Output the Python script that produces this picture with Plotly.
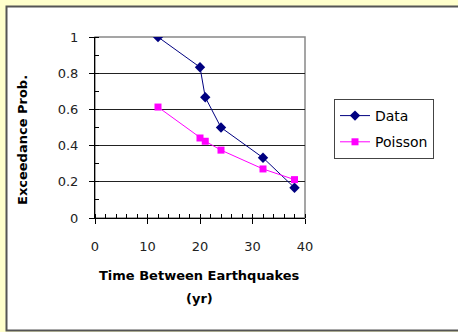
import plotly.graph_objects as go

time_yr = [12, 20, 21, 24, 32, 38]
data_prob = [1.0, 0.833, 0.667, 0.5, 0.333, 0.167]
poisson_prob = [0.613, 0.442, 0.424, 0.375, 0.271, 0.212]
x_ticks = [0, 10, 20, 30, 40]
y_ticks = [0, 0.2, 0.4, 0.6, 0.8, 1]
y_tick_text = ["0", "0.2", "0.4", "0.6", "0.8", "1"]

W, H = 458, 332
L, R, T, B = 95, 305, 37, 218  # plot area pixel bounds


def px(x):
    return (x - L) / (R - L)


def py(y):
    return (B - y) / (B - T)


fig = go.Figure()
fig.add_trace(go.Scatter(
    x=time_yr, y=data_prob, name="Data", mode="lines+markers",
    legendgroup="a",
    line=dict(color="#000080", width=1),
    marker=dict(symbol="diamond", size=8, color="#000080"),
))
fig.add_trace(go.Scatter(
    x=time_yr, y=poisson_prob, name="Poisson", mode="lines+markers",
    legendgroup="b",
    line=dict(color="#FF00FF", width=1),
    marker=dict(symbol="square", size=7, color="#FF00FF"),
))

tickfont = dict(family="DejaVu Sans", size=13, color="#222")
fig.update_xaxes(
    range=[0, 40], tickvals=x_ticks, showgrid=False, zeroline=False,
    showline=True, linecolor="black", linewidth=1,
    ticks="outside", ticklen=5, tickcolor="black", tickfont=tickfont,
    ticklabelstandoff=11,
    minor=dict(dtick=2, ticks="inside", ticklen=4, tickcolor="black"),
)
fig.update_yaxes(
    range=[0, 1], tickvals=y_ticks, ticktext=y_tick_text,
    showgrid=True, gridcolor="#222", gridwidth=1,
    zeroline=False, showline=True, linecolor="black", linewidth=1,
    ticks="outside", ticklen=5, tickcolor="black", tickfont=tickfont,
    ticklabelstandoff=8,
    minor=dict(dtick=0.1, ticks="inside", ticklen=4, tickcolor="black", showgrid=False),
)

shapes = [
    dict(type="rect", xref="paper", yref="paper", layer="below",
         x0=px(6.5), x1=px(470), y0=py(6.5), y1=py(330.5),
         line=dict(color="#555", width=2), fillcolor="white"),
    dict(type="rect", xref="paper", yref="paper", layer="below",
         x0=0, x1=1, y0=0, y1=1, line=dict(color="#888", width=1.5),
         fillcolor="rgba(0,0,0,0)"),
]

titlefont = dict(family="DejaVu Sans", size=13, color="black")
annotations = [
    dict(text="<b>Exceedance Prob.</b>", xref="paper", yref="paper",
         x=px(22), y=py(140), textangle=-90, showarrow=False,
         xanchor="center", yanchor="middle", font=titlefont),
    dict(text="<b>Time Between Earthquakes</b>", xref="paper", yref="paper",
         x=px(199), y=py(275), showarrow=False,
         xanchor="center", yanchor="middle", font=titlefont),
    dict(text="<b>(yr)</b>", xref="paper", yref="paper",
         x=px(199), y=py(298), showarrow=False,
         xanchor="center", yanchor="middle", font=titlefont),
]

fig.update_layout(
    width=W, height=H,
    margin=dict(l=L, r=W - R, t=T, b=H - B),
    paper_bgcolor="#FFFFCC", plot_bgcolor="rgba(0,0,0,0)",
    shapes=shapes, annotations=annotations,
    showlegend=True,
    legend=dict(x=px(334), y=py(99), xanchor="left", yanchor="top",
                bgcolor="white", bordercolor="#444", borderwidth=1,
                font=dict(family="DejaVu Sans", size=14, color="black"),
                itemwidth=30, tracegroupgap=5, traceorder="grouped"),
)

fig.write_html("out.html")
